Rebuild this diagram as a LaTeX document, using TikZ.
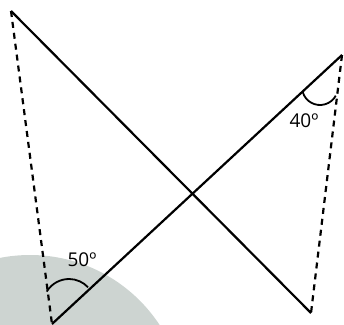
\documentclass[tikz,border=0pt]{standalone}
\usepackage{fontspec}
\setmainfont{Open Sans}
\definecolor{bggray}{RGB}{205,212,209}
\tikzset{
  solidline/.style={line width=2.2pt, black},
  dashline/.style={line width=2.2pt, black, dash pattern=on 6pt off 5pt},
  anglearc/.style={line width=1.8pt, black},
  anglelabel/.style={font=\fontsize{19}{21}\selectfont, text=black, inner sep=0pt}
}
\begin{document}
\begin{tikzpicture}[x=1pt,y=1pt]
  \useasboundingbox (0,0) rectangle (344,324);
  \clip (0,0) rectangle (344,324);
  \fill[bggray] (30,-86) circle (155);
  \coordinate (A) at (11,313);
  \coordinate (D) at (311,11);
  \coordinate (B) at (52,0);
  \coordinate (C) at (342,269);
  \draw[solidline] (A) -- (D);
  \draw[solidline] (B) -- (C);
  \draw[dashline] (A) -- (B);
  \draw[dashline] (C) -- (D);
  \coordinate (arcB) at (69,19);
  \coordinate (arcC) at (320,237);
  \draw[anglearc] ([shift={(149:26)}]arcB) arc (149:43:26);
  \draw[anglearc] ([shift={(196:18)}]arcC) arc (196:331:18);
  \node[anglelabel] (l50) at (82,64.5) {50º};
  \node[anglelabel] (l40) at (304,203) {40º};
\end{tikzpicture}
\end{document}
